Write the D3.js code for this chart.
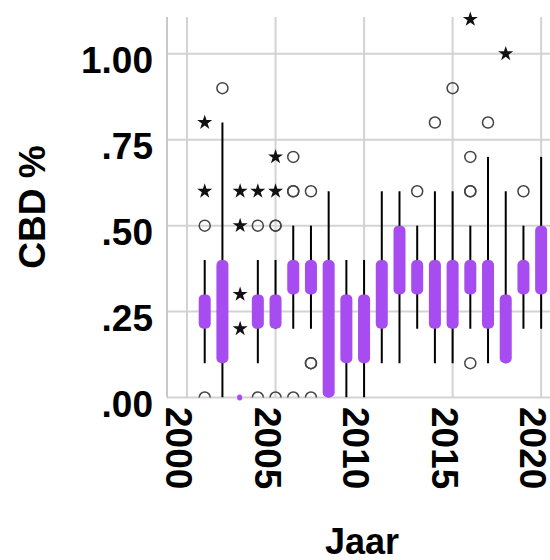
<!DOCTYPE html>
<html>
<head>
<meta charset="utf-8">
<script src="https://cdn.jsdelivr.net/npm/d3@7"></script>
<style>
  html, body { margin: 0; padding: 0; background: #fff; }
  svg { display: block; }
  text { font-family: "Liberation Sans", Arial, sans-serif; font-weight: bold; fill: #000; }
</style>
</head>
<body>
<svg id="chart" width="550" height="560"></svg>
<script>
// ---- data ----
const years     = [2001,2002,2003,2004,2005,2006,2007,2008,2009,2010,2011,2012,2013,2014,2015,2016,2017,2018,2019,2020];
const whiskerLo = [0.1, 0.0, 0.0, 0.1, 0.2, 0.2, 0.2, 0.0, 0.0, 0.0, 0.1, 0.1, 0.2, 0.1, 0.1, 0.2, 0.1, 0.1, 0.2, 0.2];
const boxQ1     = [0.2, 0.1, 0.0, 0.2, 0.2, 0.3, 0.3, 0.0, 0.1, 0.1, 0.2, 0.3, 0.3, 0.2, 0.2, 0.3, 0.2, 0.1, 0.3, 0.3];
const boxQ3     = [0.3, 0.4, 0.0, 0.3, 0.3, 0.4, 0.4, 0.4, 0.3, 0.3, 0.4, 0.5, 0.4, 0.4, 0.4, 0.4, 0.4, 0.3, 0.4, 0.5];
const whiskerHi = [0.4, 0.8, 0.0, 0.4, 0.4, 0.5, 0.5, 0.6, 0.4, 0.4, 0.6, 0.6, 0.5, 0.6, 0.6, 0.5, 0.7, 0.6, 0.5, 0.7];
// outliers (circles): [year, value]
const outlierYears  = [2001,2001,2002,2004,2004,2005,2005,2005,2006,2006,2006,2006,2007,2007,2007,2007,2013,2014,2015,2016,2016,2016,2016,2017,2019];
const outlierValues = [0.5, 0.0, 0.9, 0.5, 0.0, 0.5, 0.5, 0.0, 0.7, 0.6, 0.6, 0.0, 0.6, 0.1, 0.1, 0.0, 0.6, 0.8, 0.9, 0.7, 0.6, 0.6, 0.1, 0.8, 0.6];
// extremes (stars)
const extremeYears  = [2001,2001,2003,2003,2003,2003,2004,2005,2005,2016,2018];
const extremeValues = [0.8, 0.6, 0.6, 0.5, 0.3, 0.2, 0.6, 0.7, 0.6, 1.1, 1.0];
const yTicks = [0, 0.25, 0.5, 0.75, 1.0];
const yTickLabels = [".00", ".25", ".50", ".75", "1.00"];
const xTicks = [2000, 2005, 2010, 2015, 2020];
const xTitle = "Jaar";
const yTitle = "CBD %";

// ---- layout ----
const svg = d3.select("#chart");
const L = 167, R = 550, T = 17, B = 397.5;
const x = d3.scaleLinear().domain([1998.87, 2020.5]).range([L, R]);
const y = d3.scaleLinear().domain([0, 1.107]).range([B, T]);
const purple = "#a64cf0";
const grid = "#d3d3d3";

svg.append("defs").append("clipPath").attr("id", "clip")
  .append("rect").attr("x", L).attr("y", 0).attr("width", R - L + 5).attr("height", B - 0);

// grid lines
const gGrid = svg.append("g");
gGrid.selectAll("line.h").data(yTicks).join("line")
  .attr("x1", L).attr("x2", 555).attr("y1", d => y(d)).attr("y2", d => y(d))
  .attr("stroke", grid).attr("stroke-width", 2);
gGrid.selectAll("line.v").data(xTicks).join("line")
  .attr("x1", d => x(d)).attr("x2", d => x(d)).attr("y1", T).attr("y2", B)
  .attr("stroke", grid).attr("stroke-width", 2);
gGrid.append("line").attr("x1", L).attr("x2", L).attr("y1", T).attr("y2", B)
  .attr("stroke", "#c8c8c8").attr("stroke-width", 2);

const plot = svg.append("g").attr("clip-path", "url(#clip)");

// outlier circles
plot.selectAll("circle.out").data(outlierYears.map((yr, i) => [yr, outlierValues[i]])).join("circle")
  .attr("cx", d => x(d[0])).attr("cy", d => y(d[1])).attr("r", 5.5)
  .attr("fill", "none").attr("stroke", "#444").attr("stroke-width", 1.5);

// extreme stars
const star = d3.symbol().type(d3.symbolStar).size(70);
plot.selectAll("path.ext").data(extremeYears.map((yr, i) => [yr, extremeValues[i]])).join("path")
  .attr("transform", d => `translate(${x(d[0])},${y(d[1])})`)
  .attr("d", star).attr("fill", "#111");

const boxes = years.map((yr, i) => ({yr, lo: whiskerLo[i], q1: boxQ1[i], q3: boxQ3[i], hi: whiskerHi[i]}));

// whiskers
plot.selectAll("line.w").data(boxes.filter(d => d.hi > d.lo)).join("line")
  .attr("x1", d => x(d.yr)).attr("x2", d => x(d.yr))
  .attr("y1", d => y(d.hi)).attr("y2", d => y(d.lo))
  .attr("stroke", "#000").attr("stroke-width", 2);

// boxes
const bw = 12;
svg.append("g").selectAll("rect.box").data(boxes).join("rect")
  .attr("x", d => x(d.yr) - (d.q3 > d.q1 ? bw / 2 : 3))
  .attr("width", d => d.q3 > d.q1 ? bw : 5)
  .attr("y", d => d.q3 > d.q1 ? y(d.q3) : y(d.q3) - 3)
  .attr("height", d => d.q3 > d.q1 ? y(d.q1) - y(d.q3) : 6)
  .attr("rx", d => d.q3 > d.q1 ? 5 : 2.5)
  .attr("fill", purple);

// y tick labels
svg.append("g").selectAll("text").data(yTicks).join("text")
  .attr("x", 153).attr("y", d => y(d) + 19)
  .attr("text-anchor", "end").attr("font-size", 37)
  .text((d, i) => yTickLabels[i]);

// x tick labels (rotated)
svg.append("g").selectAll("text").data(xTicks).join("text")
  .attr("transform", d => `translate(${x(d) - 21},407) rotate(90)`)
  .attr("text-anchor", "start").attr("font-size", 37)
  .text(d => d);

// axis titles
svg.append("text").attr("x", 362).attr("y", 554).attr("text-anchor", "middle")
  .attr("font-size", 36).text(xTitle);
svg.append("text").attr("transform", "translate(45,207) rotate(-90)")
  .attr("text-anchor", "middle").attr("font-size", 37).text(yTitle);
</script>
</body>
</html>
